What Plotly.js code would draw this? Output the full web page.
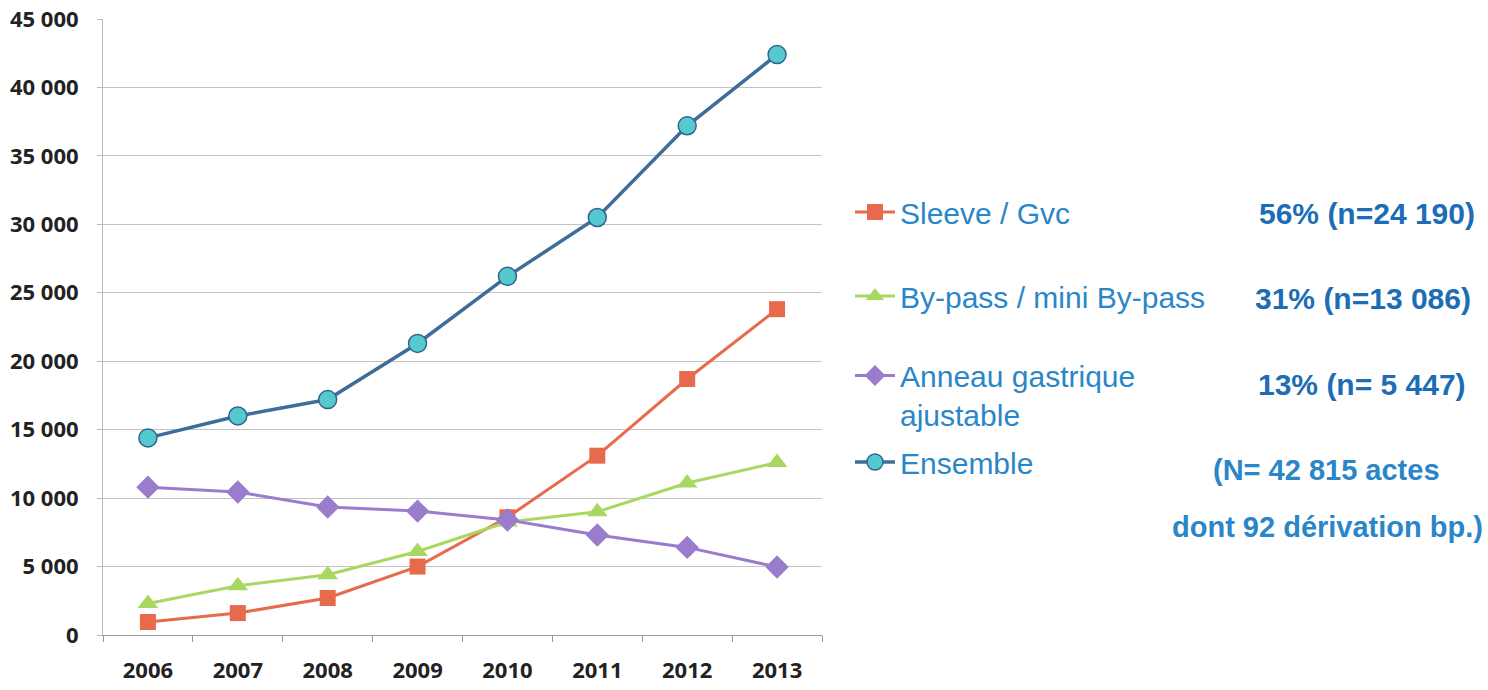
<!DOCTYPE html>
<html>
<head>
<meta charset="utf-8">
<script src="https://cdn.plot.ly/plotly-3.0.1.min.js"></script>
<style>html,body{margin:0;padding:0;background:#fff;}#chart{width:1488px;height:690px;}</style>
</head>
<body>
<div id="chart"></div>
<script>
// ---- data ----
const years = ['2006','2007','2008','2009','2010','2011','2012','2013'];
const sleeve = [950, 1600, 2700, 5000, 8600, 13100, 18700, 23800];
const bypass = [2300, 3600, 4400, 6100, 8250, 9000, 11100, 12600];
const anneau = [10800, 10450, 9350, 9050, 8400, 7300, 6400, 4970];
const ensemble = [14400, 16000, 17200, 21300, 26200, 30500, 37200, 42400];
const seriesNames = ['Sleeve / Gvc', 'By-pass / mini By-pass', 'Anneau gastrique<br>ajustable', 'Ensemble'];
const shareLabels = ['56% (n=24 190)', '31% (n=13 086)', '13% (n= 5 447)'];
const totalLabels = ['(N= 42 815 actes', 'dont 92 dérivation bp.)'];

// ---- layout helpers ----
const W = 1488, H = 690;
const L = 103, R = 822, T = 19, B = 635;
const px = x => (x - L) / (R - L);
const py = y => (B - y) / (B - T);

const legendFont = {family: 'Liberation Sans, Arial, sans-serif', size: 30, color: '#2a86c8'};
function mk(name, y, symbol, msize, lineColor, legendId, fill, mline) {
  return {
    x: years, y: y, name: name, type: 'scatter', mode: 'lines+markers',
    line: {color: lineColor, width: 3},
    marker: {symbol: symbol, size: msize, color: fill, line: mline || {width: 0}},
    legend: legendId
  };
}
const traces = [
  mk(seriesNames[0], sleeve, 'square', 16, '#e66a4b', 'legend', '#e66a4b'),
  mk(seriesNames[1], bypass, 'triangle-up', 18, '#a9d862', 'legend2', '#a9d862'),
  mk(seriesNames[2], anneau, 'diamond', 18, '#9a7ccd', 'legend3', '#9a7ccd'),
  mk(seriesNames[3], ensemble, 'circle', 18, '#3d6d98', 'legend4', '#55c9cf', {color: '#2f6690', width: 1.5})
];
traces[3].line.width = 3.5;

function leg(yc, valign) {
  return {x: 850 / W, y: 1 - yc / H, xref: 'container', yref: 'container',
    xanchor: 'left', yanchor: 'middle', font: legendFont, bgcolor: 'rgba(0,0,0,0)',
    borderwidth: 0, itemwidth: 40, valign: valign || 'middle', tracegroupgap: 0};
}

const annFontBold = {family: 'Liberation Sans, Arial, sans-serif', size: 30, color: '#1d6db6'};
const annPos = [[1367, 213], [1363, 298], [1362, 385]];
const totPos = [[1326, 470], [1327, 527]];
const annotations = [];
shareLabels.forEach((t, i) => annotations.push({
  text: '<b>' + t + '</b>', xref: 'paper', yref: 'paper', x: px(annPos[i][0]), y: py(annPos[i][1]),
  xanchor: 'center', yanchor: 'middle', showarrow: false, font: annFontBold
}));
totalLabels.forEach((t, i) => annotations.push({
  text: '<b>' + t + '</b>', xref: 'paper', yref: 'paper', x: px(totPos[i][0]), y: py(totPos[i][1]),
  xanchor: 'center', yanchor: 'middle', showarrow: false,
  font: {family: 'Liberation Sans, Arial, sans-serif', size: 29, color: '#2a86c8'}
}));

const tickFont = {family: 'Open Sans, Liberation Sans, sans-serif', size: 22, color: '#222', weight: 700};
const layout = {
  width: W, height: H,
  margin: {l: L, r: W - R, t: T, b: H - B, pad: 0},
  paper_bgcolor: '#fff', plot_bgcolor: '#fff',
  separators: ', ',
  showlegend: true,
  xaxis: {
    type: 'category', range: [-0.5, 7.5], showgrid: false,
    showline: true, linecolor: '#999', linewidth: 1,
    ticks: 'outside', tickson: 'boundaries', ticklen: 6, tickcolor: '#999',
    tickfont: tickFont, ticklabelstandoff: 16, zeroline: false
  },
  yaxis: {
    range: [0, 45000], dtick: 5000, tick0: 0, tickformat: ',d',
    showgrid: true, gridcolor: '#c4c4c4', gridwidth: 1,
    showline: true, linecolor: '#bbb', linewidth: 1,
    ticks: 'outside', ticklen: 5, tickcolor: '#bbb',
    tickfont: tickFont, ticklabelstandoff: 14, zeroline: false
  },
  legend: leg(212),
  legend2: leg(296),
  legend3: leg(395, 'top'),
  legend4: leg(462),
  annotations: annotations
};

Plotly.newPlot('chart', traces, layout, {displayModeBar: false, staticPlot: true});
</script>
</body>
</html>
